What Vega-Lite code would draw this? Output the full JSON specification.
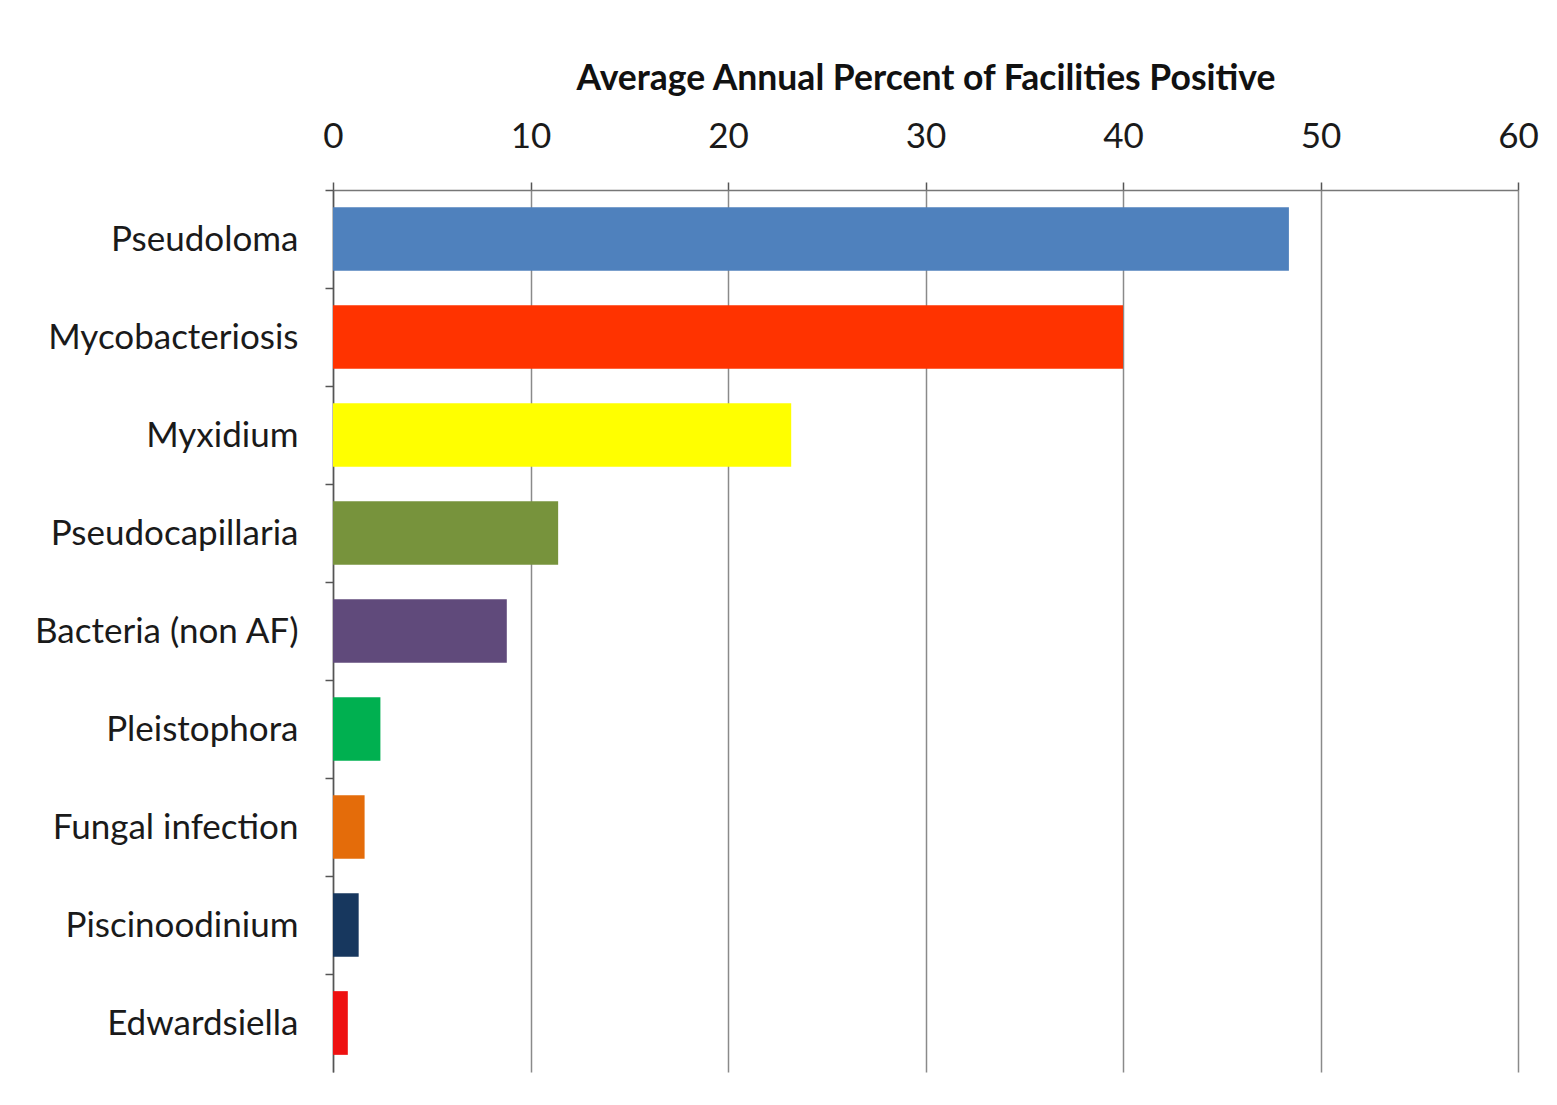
{
  "$schema": "https://vega.github.io/schema/vega-lite/v6.json",
  "autosize": {"type": "none"},
  "padding": {"left": 333, "top": 190, "right": 39, "bottom": 33},
  "width": 1185,
  "height": 882,
  "background": "white",
  "config": {"view": {"stroke": null}},
  "data": {
    "values": [
      {"organism": "Pseudoloma", "percent": 48.4, "color": "#4F81BD"},
      {"organism": "Mycobacteriosis", "percent": 40.0, "color": "#FF3300"},
      {"organism": "Myxidium", "percent": 23.2, "color": "#FFFF00"},
      {"organism": "Pseudocapillaria", "percent": 11.4, "color": "#77933C"},
      {"organism": "Bacteria (non AF)", "percent": 8.8, "color": "#604A7B"},
      {"organism": "Pleistophora", "percent": 2.4, "color": "#00B050"},
      {"organism": "Fungal infection", "percent": 1.6, "color": "#E46C0A"},
      {"organism": "Piscinoodinium", "percent": 1.3, "color": "#17375E"},
      {"organism": "Edwardsiella", "percent": 0.75, "color": "#EE1111"}
    ]
  },
  "mark": {"type": "bar"},
  "encoding": {
    "y": {
      "field": "organism",
      "type": "nominal",
      "sort": null,
      "scale": {"paddingInner": 0.35, "paddingOuter": 0.175},
      "axis": {
        "title": null,
        "orient": "left",
        "tickOffset": -49,
        "labelOffset": 49,
        "tickSize": 8,
        "tickColor": "#555",
        "tickWidth": 1.5,
        "domainColor": "#555",
        "domainWidth": 1.5,
        "labelFont": "Lato",
        "labelFontSize": 35,
        "labelColor": "#1a1a1a",
        "labelPadding": 27,
        "labelLimit": 400,
        "grid": false
      }
    },
    "x": {
      "field": "percent",
      "type": "quantitative",
      "scale": {"domain": [0, 60], "nice": false},
      "axis": {
        "orient": "top",
        "title": "Average Annual Percent of Facilities Positive",
        "titleFont": "Lato",
        "titleFontSize": 35.5,
        "titleFontWeight": "bold",
        "titleColor": "#111",
        "titlePadding": 23,
        "values": [0, 10, 20, 30, 40, 50, 60],
        "labelFont": "Lato",
        "labelFontSize": 35,
        "labelColor": "#1a1a1a",
        "labelPadding": 28,
        "labelFlush": false,
        "tickSize": 8,
        "tickColor": "#555",
        "tickWidth": 1.5,
        "domainColor": "#777",
        "domainWidth": 1.5,
        "grid": true,
        "gridColor": "#8a8a8a",
        "gridWidth": 1.5
      }
    },
    "color": {"field": "color", "type": "nominal", "scale": null, "legend": null}
  }
}
